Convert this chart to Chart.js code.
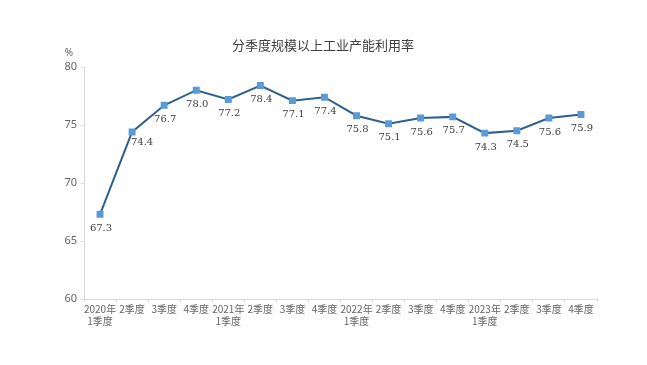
<!DOCTYPE html>
<html>
<head>
<meta charset="utf-8">
<script src="https://cdn.jsdelivr.net/npm/chart.js@4.4.1/dist/chart.umd.min.js"></script>
<style>
  html,body{margin:0;padding:0;background:#fff}
  #wrap{width:647px;height:365px;position:relative}
</style>
</head>
<body>
<div id="wrap"><canvas id="c"></canvas></div>
<script>
const TITLE = "分季度规模以上工业产能利用率";
const UNIT = "%";
const quarters = [
  ["2020年","1季度"],"2季度","3季度","4季度",
  ["2021年","1季度"],"2季度","3季度","4季度",
  ["2022年","1季度"],"2季度","3季度","4季度",
  ["2023年","1季度"],"2季度","3季度","4季度"
];
const rates = [67.3,74.4,76.7,78.0,77.2,78.4,77.1,77.4,75.8,75.1,75.6,75.7,74.3,74.5,75.6,75.9];
const yTicks = [60,65,70,75,80];

const LINE = "#2F5F8E", MARK = "#5B9BD5", INK = "#666666";

// value labels under each point + title + unit
const labelsPlugin = {
  id:"labels",
  afterDatasetsDraw(chart){
    const ctx = chart.ctx;
    const meta = chart.getDatasetMeta(0);
    ctx.save();
    ctx.font = "10px 'DejaVu Serif', serif";
    ctx.fillStyle = "#404040";
    ctx.textAlign = "center";
    ctx.textBaseline = "middle";
    meta.data.forEach((pt,i)=>{
      // the steep segment after the first point pushes this label aside
      const dx = i===1 ? 10 : 1;
      const dy = i===1 ? 10 : 14;
      ctx.fillText(rates[i].toFixed(1), pt.x+dx, pt.y+dy);
    });
    ctx.restore();
  },
  afterDraw(chart){
    const ctx = chart.ctx;
    ctx.save();
    ctx.fillStyle = "#404040";
    ctx.font = "13px 'Noto Sans CJK SC', sans-serif";
    ctx.textAlign = "center";
    ctx.textBaseline = "middle";
    ctx.fillText(TITLE, 323, 45);
    ctx.font = "10px 'Noto Sans', sans-serif";
    ctx.fillStyle = INK;
    ctx.fillText(UNIT, 69, 53);
    ctx.restore();
  }
};

new Chart(document.getElementById("c"),{
  type:"line",
  data:{
    labels:quarters,
    datasets:[{
      data:rates,
      borderColor:LINE,
      borderWidth:2,
      pointStyle:"rect",
      pointRadius:3.5,
      pointBackgroundColor:MARK,
      pointBorderColor:MARK,
      tension:0
    }]
  },
  options:{
    responsive:true,maintainAspectRatio:false,animation:false,
    layout:{padding:{top:67,right:50,left:0,bottom:0}},
    plugins:{legend:{display:false},tooltip:{enabled:false}},
    scales:{
      x:{
        offset:true,
        grid:{display:true,drawOnChartArea:false,offset:true,tickLength:3,color:"#d9d9d9"},
        border:{color:"#d9d9d9"},
        ticks:{maxRotation:0,autoSkip:false,padding:1,color:INK,font:{size:10,family:"'Noto Sans CJK SC', sans-serif"}},
        afterFit:s=>{s.height=66;}
      },
      y:{
        min:60,max:80,
        afterBuildTicks:s=>{s.ticks=yTicks.map(v=>({value:v}));},
        grid:{display:true,drawOnChartArea:false,tickLength:3,color:"#d9d9d9"},
        border:{color:"#d9d9d9"},
        ticks:{padding:4,color:INK,font:{size:11,family:"'Noto Sans', sans-serif"}},
        afterFit:s=>{s.width=84;}
      }
    }
  },
  plugins:[labelsPlugin]
});
</script>
</body>
</html>
